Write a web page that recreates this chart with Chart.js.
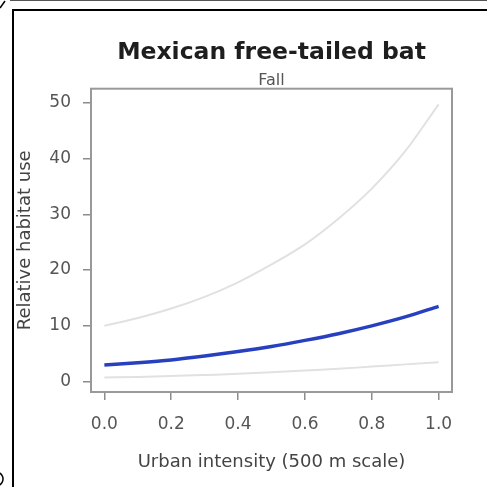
<!DOCTYPE html>
<html>
<head>
<meta charset="utf-8">
<title>Mexican free-tailed bat</title>
<script src="https://cdn.jsdelivr.net/npm/chart.js@4.4.1/dist/chart.umd.min.js"></script>
<style>
  html, body { margin: 0; padding: 0; background: #fff; }
  canvas { display: block; }
</style>
</head>
<body>
<canvas id="batChart" width="487" height="487"></canvas>
<script>
// values
const urbanIntensity = [0, 0.1, 0.2, 0.3, 0.4, 0.5, 0.6, 0.7, 0.8, 0.9, 1.0];
const habitatUse = [3.0, 3.4, 3.9, 4.6, 5.4, 6.3, 7.4, 8.6, 10.0, 11.6, 13.5];
const upperCI = [10.0, 11.4, 13.1, 15.2, 17.8, 21.0, 24.6, 29.2, 34.6, 41.3, 49.7];
const lowerCI = [0.75, 0.85, 1.0, 1.2, 1.4, 1.7, 2.0, 2.3, 2.7, 3.1, 3.5];
const xTicks = [0, 0.2, 0.4, 0.6, 0.8, 1.0];
const yTicks = [0, 10, 20, 30, 40, 50];

const toPoints = (ys) => urbanIntensity.map((x, i) => ({ x, y: ys[i] }));

// panel frame bits and the plot box (R style)
const framePlugin = {
  id: 'frame',
  beforeDraw(chart) {
    const { ctx } = chart;
    ctx.save();
    ctx.strokeStyle = '#555';
    ctx.lineWidth = 1;
    ctx.beginPath();
    ctx.moveTo(10, 0.5);
    ctx.lineTo(487, 0.5);
    ctx.stroke();

    ctx.strokeStyle = '#000';
    ctx.lineWidth = 2;
    ctx.beginPath();
    ctx.moveTo(13, 487);
    ctx.lineTo(13, 10);
    ctx.lineTo(487, 10);
    ctx.stroke();

    ctx.lineWidth = 1.5;
    ctx.beginPath();
    ctx.moveTo(0, 8);
    ctx.lineTo(5, 1);
    ctx.stroke();
    ctx.beginPath();
    ctx.arc(-4, 479, 7, -1.1, 1.1);
    ctx.stroke();
    ctx.restore();
  },
  afterDatasetsDraw(chart) {
    const { ctx, chartArea: a } = chart;
    ctx.save();
    ctx.strokeStyle = '#999';
    ctx.lineWidth = 2;
    ctx.strokeRect(a.left, a.top, a.right - a.left, a.bottom - a.top);
    ctx.restore();
  }
};

Chart.defaults.font.family = '"DejaVu Sans", sans-serif';

const tickGrid = {
  drawOnChartArea: false,
  drawTicks: true,
  tickLength: 8,
  color: '#8c8c8c',
  lineWidth: 1.5
};

new Chart(document.getElementById('batChart'), {
  type: 'line',
  data: {
    datasets: [
      { label: 'Relative habitat use', data: toPoints(habitatUse), borderColor: '#2740c0', borderWidth: 3.5 },
      { label: 'Upper CI', data: toPoints(upperCI), borderColor: '#e1e1e1', borderWidth: 2 },
      { label: 'Lower CI', data: toPoints(lowerCI), borderColor: '#e1e1e1', borderWidth: 2 }
    ]
  },
  options: {
    responsive: false,
    animation: false,
    layout: { padding: { left: 0, right: 35, top: 0, bottom: 0 } },
    elements: {
      point: { radius: 0 },
      line: { cubicInterpolationMode: 'monotone' }
    },
    plugins: {
      legend: { display: false },
      tooltip: { enabled: false },
      title: {
        display: true,
        fullSize: false,
        text: 'Mexican free-tailed bat',
        color: '#1e1e1e',
        font: { size: 23.5, weight: 'bold', lineHeight: 1.2 },
        padding: { top: 39, bottom: 0 }
      },
      subtitle: {
        display: true,
        fullSize: false,
        text: 'Fall',
        color: '#555',
        font: { size: 16, lineHeight: 1.0 },
        padding: { top: 5.5, bottom: 0 }
      }
    },
    scales: {
      x: {
        type: 'linear',
        min: -0.04,
        max: 1.04,
        afterBuildTicks: (scale) => { scale.ticks = xTicks.map((v) => ({ value: v })); },
        afterFit: (scale) => { scale.height = 95; },
        grid: tickGrid,
        border: { display: false },
        ticks: {
          padding: 14,
          color: '#555',
          maxRotation: 0,
          autoSkip: false,
          font: { size: 17 },
          callback: (v) => Number(v).toFixed(1)
        },
        title: {
          display: true,
          text: 'Urban intensity (500 m scale)',
          color: '#444',
          font: { size: 18 },
          padding: { top: 0, bottom: 14 }
        }
      },
      y: {
        type: 'linear',
        min: -1.85,
        max: 52.5,
        afterBuildTicks: (scale) => { scale.ticks = yTicks.map((v) => ({ value: v })); },
        afterFit: (scale) => { scale.width = 91; },
        grid: tickGrid,
        border: { display: false },
        ticks: { padding: 12, color: '#555', font: { size: 17 } },
        title: {
          display: true,
          text: 'Relative habitat use',
          color: '#444',
          font: { size: 18 },
          padding: { top: 15, bottom: 0 }
        }
      }
    }
  },
  plugins: [framePlugin]
});
</script>
</body>
</html>
